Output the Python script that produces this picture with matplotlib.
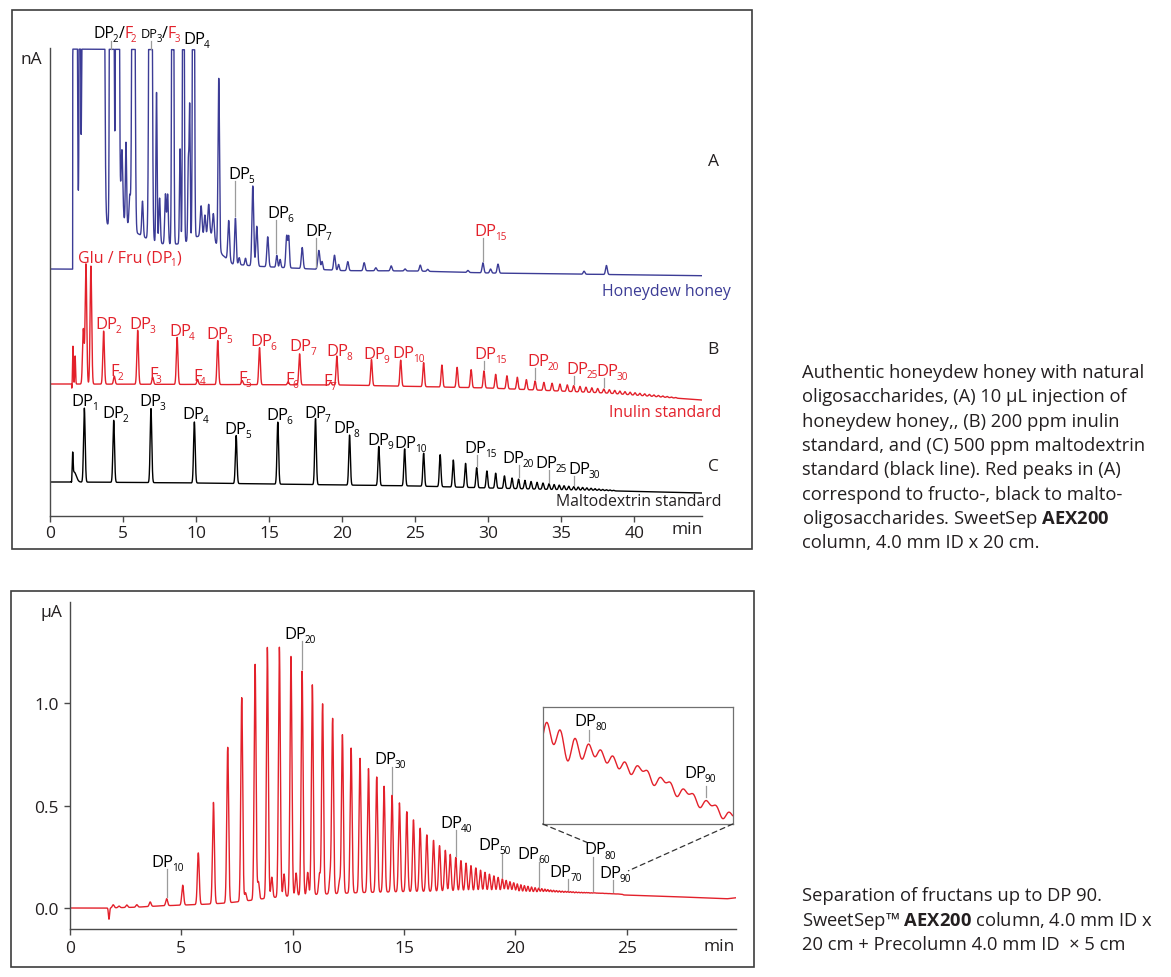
import numpy as np
import matplotlib
matplotlib.use("Agg")
import matplotlib.pyplot as plt
from matplotlib.patches import Rectangle, ConnectionPatch
from matplotlib.transforms import blended_transform_factory, offset_copy

plt.rcParams['font.family'] = ['Open Sans', 'DejaVu Sans']
plt.rcParams['mathtext.fontset'] = 'custom'
plt.rcParams['mathtext.rm'] = 'Open Sans'
plt.rcParams['mathtext.it'] = 'Open Sans:italic'
plt.rcParams['mathtext.bf'] = 'Open Sans:bold'

RED = '#e3212b'
BLUE = '#3c3c96'
GREY = '#9b9b9b'
AXC = '#4a4a4a'
TXT = '#231f20'

# ------------------------------------------------------------------
# Top panel: peak lists (min, nA arb. units)
# ------------------------------------------------------------------
# (A) honeydew honey
honey_time = [1.72, 2.04, 2.40, 2.80, 3.20, 3.55, 4.12, 4.25, 4.62, 4.92,
              5.20, 5.46, 5.71, 6.33, 6.88, 7.29, 7.50, 7.90, 8.05, 8.40,
              8.90, 9.13, 9.47, 9.56, 9.82, 10.34, 10.60, 10.86, 11.18, 11.55,
              12.23, 12.69, 12.95, 13.38, 13.88, 14.15, 14.90, 15.52, 15.75, 16.20,
              16.34, 17.26, 18.40, 18.62, 19.47, 19.75, 20.38, 21.50, 22.30, 23.35,
              24.30, 25.34, 25.85, 28.60, 29.63, 30.15, 30.66, 36.55, 38.08]
honey_height = [1500, 400, 1500, 1500, 1500, 1500, 600, 1500, 1500, 70,
                80, 30, 900, 35, 900, 150, 45, 50, 50, 800,
                95, 600, 80, 130, 700, 30, 20, 30, 25, 170,
                40, 46, 7, 7, 80, 40, 30, 12, 8, 32,
                30, 21, 19, 8, 15, 6, 9, 8, 3, 5,
                2, 6, 2, 2, 10, 4, 9, 3, 9]
honey_width = [0.08, 0.04, 0.11, 0.11, 0.11, 0.10, 0.04, 0.07, 0.07, 0.06,
               0.04, 0.05, 0.07, 0.05, 0.075, 0.04, 0.05, 0.05, 0.05, 0.05,
               0.04, 0.045, 0.04, 0.035, 0.05, 0.06, 0.05, 0.06, 0.06, 0.05,
               0.06, 0.055, 0.05, 0.05, 0.06, 0.06, 0.06, 0.05, 0.05, 0.06,
               0.05, 0.06, 0.07, 0.05, 0.06, 0.05, 0.06, 0.06, 0.06, 0.06,
               0.06, 0.06, 0.06, 0.06, 0.06, 0.06, 0.06, 0.06, 0.06]
# unresolved matrix under the honey peaks
honey_hump_t = [1.55, 2, 3, 4, 5, 6, 7, 8, 9, 10, 11, 11.8, 12.5, 14, 17, 20, 44.6]
honey_hump = [20, 28, 38, 45, 50, 36, 28, 25, 26, 33, 36, 15, 6, 4, 2, 0, 0]
honey_void = 1.55
honey_overload = 220                   # detector saturates this far above baseline
honey_base_t = [0, 25, 30, 44.6]
honey_base = [247, 245, 243, 240.3]

# (B) inulin standard
inulin_void_t = [1.50, 1.57, 1.72]
inulin_void_h = [-5, 38, 28]
inulin_time = [2.28, 2.46, 2.80,
               3.67, 4.40, 6.00, 7.03, 8.70, 10.10, 11.48, 13.15, 14.34, 16.30,
               17.08, 19.20, 19.63, 22.00, 24.00,
               25.57, 26.82, 27.86, 28.82, 29.70, 30.50, 31.27, 31.98, 32.60, 33.20,
               33.80, 34.36, 34.90, 35.40, 35.84, 36.27, 36.68, 37.08, 37.48, 37.90,
               38.28, 38.65, 39.00, 39.35, 39.70, 40.04, 40.37, 40.70, 41.02, 41.33,
               41.64, 41.94, 42.24, 42.53, 42.82]
inulin_height = [55, 120, 118,
                 53, 8, 54, 7, 47, 5, 44, 4, 37, 3,
                 31, 3, 29, 26, 26,
                 24, 22, 20, 18, 17, 14, 13, 12, 10, 9,
                 8, 7.5, 7, 6.5, 6, 5.5, 5, 4.6, 4.2, 3.9,
                 3.6, 3.3, 3.0, 2.8, 2.6, 2.4, 2.2, 2.0, 1.8, 1.6,
                 1.4, 1.2, 1.0, 0.8, 0.6]
inulin_void = 1.48
inulin_base_t = [0, 1.5, 20, 30, 38, 44.6]
inulin_base = [132, 132, 131, 128, 123, 116]

# (C) maltodextrin standard, DP1..DP40
malto_void_t = [1.48, 1.55, 1.65]
malto_void_h = [-6, 22, 10]
malto_time = [2.35, 4.36, 6.91, 9.88, 12.74, 15.59, 18.17, 20.50, 22.50, 24.27,
              25.57, 26.70, 27.60, 28.44, 29.20, 29.90, 30.50, 31.10, 31.62, 32.07,
              32.50, 32.92, 33.33, 33.74, 34.15, 34.50, 34.85, 35.18, 35.50, 35.84,
              36.15, 36.45, 36.74, 37.03, 37.30, 37.57, 37.83, 38.08, 38.33, 38.57]
malto_height = [74, 62, 74, 61, 48, 62, 66, 50, 39, 37,
                33, 32, 27, 24, 20, 17, 15, 12.5, 10.5, 9.5,
                8.5, 7.5, 6.8, 6.2, 5.6, 5.0, 4.5, 4.0, 3.6, 3.3,
                3.0, 2.7, 2.4, 2.1, 1.8, 1.5, 1.2, 1.0, 0.8, 0.6]
malto_void = 1.46
malto_base_t = [0, 1.5, 10, 25, 30, 36, 44.6]
malto_base = [34, 34, 33, 30, 28, 26, 23]

# ------------------------------------------------------------------
# Bottom panel: fructans DP5..DP95 (min, uA)
# ------------------------------------------------------------------
fructan_time = [1.94, 2.20, 2.55, 3.00, 3.60,
                4.34, 5.06, 5.76, 6.44, 7.08, 7.71, 8.31, 8.86, 9.40, 9.92,
                10.42, 10.88, 11.34, 11.79, 12.23, 12.62, 13.02, 13.40, 13.77, 14.10,
                14.46, 14.79, 15.12, 15.42, 15.72, 16.02, 16.32, 16.59, 16.85, 17.07,
                17.32, 17.55, 17.78, 18.00, 18.22, 18.43, 18.63, 18.83, 19.03, 19.22,
                19.41, 19.58, 19.75, 19.92, 20.08, 20.24, 20.40, 20.56, 20.72, 20.88,
                21.04, 21.18, 21.32, 21.45, 21.58, 21.71, 21.84, 21.97, 22.10, 22.23,
                22.35, 22.47, 22.59, 22.72, 22.84, 22.96, 23.08, 23.19, 23.29, 23.40,
                23.50, 23.59, 23.68, 23.77, 23.86, 23.94, 24.03, 24.11, 24.20, 24.28,
                24.37, 24.45, 24.54, 24.62, 24.70, 24.78]
fructan_height = [0.015, 0.008, 0.012, 0.012, 0.022,
                  0.034, 0.097, 0.252, 0.495, 0.76, 0.995, 1.15, 1.225, 1.22, 1.17,
                  1.095, 1.025, 0.93, 0.855, 0.775, 0.708, 0.656, 0.605, 0.563, 0.517,
                  0.472, 0.434, 0.39, 0.35, 0.309, 0.276, 0.249, 0.223, 0.2, 0.18,
                  0.165, 0.15, 0.138, 0.126, 0.115, 0.104, 0.094, 0.085, 0.077, 0.07,
                  0.063, 0.056, 0.05, 0.045, 0.04, 0.036, 0.032, 0.029, 0.026, 0.023,
                  0.021, 0.019, 0.017, 0.015, 0.013, 0.012, 0.011, 0.010, 0.009, 0.0085,
                  0.008, 0.0075, 0.007, 0.0065, 0.006, 0.0058, 0.0056, 0.0054, 0.0052, 0.005,
                  0.0048, 0.0046, 0.0045, 0.0044, 0.0043, 0.0042, 0.0041, 0.004, 0.0039, 0.0038,
                  0.0037, 0.0036, 0.0035, 0.0034, 0.0033, 0.0032]
side_time = [7.88, 8.46, 9.06, 9.61, 10.15, 10.67, 11.20, 11.68, 12.10]
side_height = [0.04, 0.085, 0.10, 0.11, 0.11, 0.11, 0.10, 0.085, 0.06]
dip_time, dip_height = 1.75, -0.055
hump_t = [0, 1.7, 3, 4, 5, 6, 7, 8, 9, 10, 11, 13, 15, 17, 19, 21, 23, 25, 27, 29, 29.5, 29.9]
hump_y = [0, 0, 0.004, 0.01, 0.014, 0.018, 0.024, 0.036, 0.05, 0.06, 0.066, 0.075,
          0.08, 0.082, 0.08, 0.076, 0.071, 0.063, 0.056, 0.047, 0.045, 0.05]

top_ticks = [0, 5, 10, 15, 20, 25, 30, 35, 40]
bottom_xticks = [0, 5, 10, 15, 20, 25]
bottom_yticks = [0.0, 0.5, 1.0]

LABEL = 12      # size of the DP / F peak labels


def peaks(t, times, heights, widths):
    y = np.zeros_like(t)
    widths = np.broadcast_to(widths, np.shape(times))
    for t0, h, w in zip(times, heights, widths):
        y += h * np.exp(-0.5 * ((t - t0) / w) ** 2)
    return y


fig = plt.figure(figsize=(11.71, 9.78), dpi=100)
renderer = fig.canvas.get_renderer()


def chain(ax, x, y, pieces, size=LABEL, ha='center', base=None):
    """Write text pieces one after another; a piece is (text, colour, subscript[, scale])."""
    base = ax.transData if base is None else base
    arts, total = [], 0.0
    for p in pieces:
        txt, col, sub = p[:3]
        scale = p[3] if len(p) > 3 else 1.0
        fs = size * scale * (0.6 if sub else 1.0)
        a = ax.text(x, y, txt, fontsize=fs, color=col, ha='left', va='baseline',
                    transform=base, clip_on=False)
        w = a.get_window_extent(renderer).width * 72 / fig.dpi
        kern = -0.1 * size if sub else 0.0
        arts.append((a, sub, kern, w))
        total += w + kern
    pos = {'center': -total / 2, 'left': 0.0, 'right': -total}[ha]
    for a, sub, kern, w in arts:
        pos += kern
        dy = -0.357 * size - (0.25 * size if sub else 0.0)
        a.set_transform(offset_copy(base, fig=fig, x=pos, y=dy, units='points'))
        pos += w


def dp(n, color='black'):
    return [('DP', color, False), (str(n), color, True)]


def leader(ax, x, top, t, y, gap):
    near = (t > x - 0.05) & (t < x + 0.05)
    bottom = y[near].max() + gap
    ax.plot([x, x], [bottom, top], color=GREY, lw=0.9, clip_on=False)


# ---------------- top panel ----------------
t = np.linspace(0, 44.6, 14000)

sig_a = peaks(t, honey_time, honey_height, honey_width)
sig_a += np.interp(t, honey_hump_t, honey_hump)
sig_a[t < honey_void] = 0
y_a = np.interp(t, honey_base_t, honey_base) + np.minimum(sig_a, honey_overload)

sig_b = peaks(t, inulin_time, inulin_height, 0.055)
sig_b += peaks(t, inulin_void_t, inulin_void_h, 0.028)
sig_b[t < inulin_void] = 0
y_b = np.interp(t, inulin_base_t, inulin_base) + sig_b

sig_c = peaks(t, malto_time, malto_height, 0.055)
sig_c += peaks(t, malto_void_t, malto_void_h, [0.02, 0.03, 0.15])
sig_c[t < malto_void] = 0
y_c = np.interp(t, malto_base_t, malto_base) + sig_c

ax = fig.add_axes([50 / 1171, 1 - 517 / 978, 651.7 / 1171, 468 / 978])
ax.plot(t, y_a, color=BLUE, lw=1.0)
ax.plot(t, y_b, color=RED, lw=1.0)
ax.plot(t, y_c, color='black', lw=1.0)
ax.set_xlim(0, 44.6)
ax.set_ylim(0, 468)
for s in ['top', 'right']:
    ax.spines[s].set_visible(False)
for s in ['left', 'bottom']:
    ax.spines[s].set_color(AXC)
    ax.spines[s].set_linewidth(1.0)
ax.set_yticks([])
ax.set_xticks(top_ticks)
ax.tick_params(axis='x', length=4, width=1, color=AXC, labelsize=12.5,
               labelcolor=TXT, pad=2.5)

# labels of trace A
chain(ax, 4.45, 485, dp(2) + [('/', 'black', False), ('F', RED, False), ('2', RED, True)],
      size=11.5)
ax.plot([4.18, 4.18], [467.5, 475], color=GREY, lw=0.9, clip_on=False)
chain(ax, 7.55, 485, [('DP', 'black', False, 0.8), ('3', 'black', True),
                      ('/', 'black', False), ('F', RED, False), ('3', RED, True)], size=11.5)
ax.plot([6.9, 6.9], [467.5, 475], color=GREY, lw=0.9, clip_on=False)
chain(ax, 10.02, 478.7, dp(4))
for x_txt, y_txt, x_line, n, col in [(13.07, 344, 12.69, 5, 'black'),
                                      (15.77, 305.3, 15.50, 6, 'black'),
                                      (18.38, 287, 18.17, 7, 'black'),
                                      (30.16, 287, 29.63, 15, RED)]:
    chain(ax, x_txt, y_txt, dp(n, col))
    leader(ax, x_line, y_txt - 9, t, y_a, 2)
chain(ax, 5.43, 260.3, [('Glu / Fru (DP', RED, False), ('1', RED, True), (')', RED, False)],
      size=11.5)

# labels of trace B
for x_txt, y_txt, n in [(3.99, 193.7, 2), (6.32, 193.7, 3), (9.03, 187, 4),
                        (11.58, 184.3, 5), (14.61, 177, 6), (17.30, 172, 7),
                        (19.82, 167, 8), (22.35, 163.7, 9), (24.54, 165, 10)]:
    chain(ax, x_txt, y_txt, dp(n, RED))
for x_txt, y_txt, n in [(4.58, 147, 2), (7.21, 144, 3), (10.23, 142, 4),
                        (13.31, 140.3, 5), (16.53, 138.7, 6), (19.13, 137, 7)]:
    chain(ax, x_txt, y_txt, [('F', RED, False), (str(n), RED, True)])
for x_txt, y_txt, x_line, n in [(30.16, 163.7, 29.70, 15), (33.77, 157, 33.20, 20),
                                (36.39, 148.7, 35.84, 25), (38.48, 147, 37.90, 30)]:
    chain(ax, x_txt, y_txt, dp(n, RED))
    leader(ax, x_line, y_txt - 9, t, y_b, 2)

# labels of trace C
for x_txt, y_txt, n in [(2.38, 117, 1), (4.49, 105.3, 2), (7.00, 117, 3),
                        (9.97, 103.7, 4), (12.85, 88.7, 5), (15.68, 103, 6),
                        (18.31, 105.3, 7), (20.29, 89.7, 8), (22.62, 77.7, 9),
                        (24.68, 75.3, 10)]:
    chain(ax, x_txt, y_txt, dp(n))
for x_txt, y_txt, x_line, n in [(29.44, 70.3, 29.20, 15), (32.05, 60.3, 32.07, 20),
                                (34.32, 55.3, 34.15, 25), (36.55, 48.7, 35.84, 30)]:
    chain(ax, x_txt, y_txt, dp(n))
    leader(ax, x_line, y_txt - 9, t, y_c, 2)

ax.text(45.4, 355.3, 'A', fontsize=12.5, ha='center', va='center', color=TXT)
ax.text(45.4, 167, 'B', fontsize=12.5, ha='center', va='center', color=TXT)
ax.text(45.4, 50, 'C', fontsize=12.5, ha='center', va='center', color=TXT)
ax.text(46.6, 224.7, 'Honeydew honey', fontsize=11.4, ha='right', va='center', color=BLUE)
ax.text(45.96, 103.7, 'Inulin standard', fontsize=11.4, ha='right', va='center', color=RED)
ax.text(45.96, 15.3, 'Maltodextrin standard', fontsize=11.4, ha='right', va='center', color=TXT)
fig.text(31.7 / 1171, 1 - 60 / 978, 'nA', fontsize=12.5, ha='center', va='center', color=TXT)
fig.text(686.7 / 1171, 1 - 530 / 978, 'min', fontsize=12.5, ha='center', va='center', color=TXT)

# ---------------- bottom panel ----------------
tb = np.linspace(0, 29.9, 14000)
y_f = np.interp(tb, hump_t, hump_y)
y_f += peaks(tb, fructan_time, fructan_height,
             np.where(np.array(fructan_time) < 20, 0.042, 0.036))
y_f += peaks(tb, side_time, side_height, 0.04)
y_f += peaks(tb, [dip_time], [dip_height], 0.025)

bx = fig.add_axes([70 / 1171, 1 - 930 / 978, 666 / 1171, 327 / 978])
bx.plot(tb, y_f, color=RED, lw=1.0)
bx.set_xlim(0, 29.9)
bx.set_ylim(-0.1026, 1.4949)
for s in ['top', 'right']:
    bx.spines[s].set_visible(False)
for s in ['left', 'bottom']:
    bx.spines[s].set_color(AXC)
    bx.spines[s].set_linewidth(1.0)
bx.set_xticks(bottom_xticks)
bx.set_yticks(bottom_yticks)
bx.set_yticklabels([f'{v:.1f}' for v in bottom_yticks])
bx.tick_params(length=4.5, width=1, color=AXC, labelsize=12.5, labelcolor=TXT, pad=3.5)

for x_txt, y_txt, x_line, n in [(4.38, 0.236, 4.34, 10), (10.33, 1.347, 10.42, 20),
                                (14.39, 0.736, 14.46, 30), (17.35, 0.427, 17.32, 40),
                                (19.06, 0.316, 19.41, 50), (20.82, 0.272, 21.04, 60),
                                (22.25, 0.187, 22.35, 70), (23.81, 0.296, 23.50, 80),
                                (24.47, 0.182, 24.37, 90)]:
    chain(bx, x_txt, y_txt, dp(n))
    leader(bx, x_line, y_txt - 0.045, tb, y_f, 0.008)

fig.text(51.7 / 1171, 1 - 612.7 / 978, 'µA', fontsize=12.5, ha='center', va='center', color=TXT)
fig.text(719.5 / 1171, 1 - 946.7 / 978, 'min', fontsize=12.5, ha='center', va='center', color=TXT)

# inset (DP76-DP92 enlarged)
ix = fig.add_axes([542.7 / 1171, 1 - 825 / 978, 190 / 1171, 117.3 / 978])
win = (tb >= 23.16) & (tb <= 24.57)
lo, hi = y_f[win].min(), y_f[win].max()
rng = hi - lo
ix.plot(tb[win], y_f[win], color=RED, lw=1.0)
ix.set_xlim(23.16, 24.57)
ix.set_ylim(lo - 0.055 * rng, hi + 0.163 * rng)
ix.set_xticks([])
ix.set_yticks([])
for s in ix.spines.values():
    s.set_color('#707070')
    s.set_linewidth(0.9)
chain(ix, 0.253, 0.895, dp(80), base=ix.transAxes)
chain(ix, 0.828, 0.455, dp(90), base=ix.transAxes)
itr = blended_transform_factory(ix.transData, ix.transAxes)
y0, y1 = ix.get_ylim()
for x_line, top in [(23.50, 0.80), (24.37, 0.32)]:
    near = (tb > x_line - 0.03) & (tb < x_line + 0.03)
    bot = (y_f[near].max() - y0) / (y1 - y0) + 0.03
    ix.plot([x_line, x_line], [bot, top], color=GREY, lw=0.9, transform=itr)

for corner, target in [((0, 0), (23.2, 0.321)), ((1, 0), (25.07, 0.182))]:
    con = ConnectionPatch(xyA=corner, coordsA=ix.transAxes, xyB=target, coordsB=bx.transData,
                          color='#333333', lw=0.9, linestyle=(0, (4, 3)))
    fig.add_artist(con)

# frames around both panels
fig.add_artist(Rectangle((12 / 1171, 1 - 550 / 978), 740 / 1171, 539 / 978,
                         transform=fig.transFigure, fill=False, ec='#3d3d3d', lw=1.2))
fig.add_artist(Rectangle((11 / 1171, 1 - 967.7 / 978), 743.3 / 1171, 376 / 978,
                         transform=fig.transFigure, fill=False, ec='#3d3d3d', lw=1.2))

# captions
cap1 = ['Authentic honeydew honey with natural',
        'oligosaccharides, (A) 10 µL injection of',
        'honeydew honey,, (B) 200 ppm inulin',
        'standard, and (C) 500 ppm maltodextrin',
        'standard (black line). Red peaks in (A)',
        'correspond to fructo-, black to malto-',
        r'oligosaccharides. SweetSep $\mathbf{AEX200}$',
        'column, 4.0 mm ID x 20 cm.']
for i, line in enumerate(cap1):
    fig.text(801.7 / 1171, 1 - (378.2 + 24.3 * i) / 978, line, fontsize=13.2,
             ha='left', va='baseline', color=TXT)
cap2 = ['Separation of fructans up to DP 90.',
        r'SweetSep™ $\mathbf{AEX200}$ column, 4.0 mm ID x',
        '20 cm + Precolumn 4.0 mm ID  × 5 cm']
for i, line in enumerate(cap2):
    fig.text(801.7 / 1171, 1 - (901.5 + 24.3 * i) / 978, line, fontsize=13.2,
             ha='left', va='baseline', color=TXT)

fig.savefig('out.png', dpi=100)
